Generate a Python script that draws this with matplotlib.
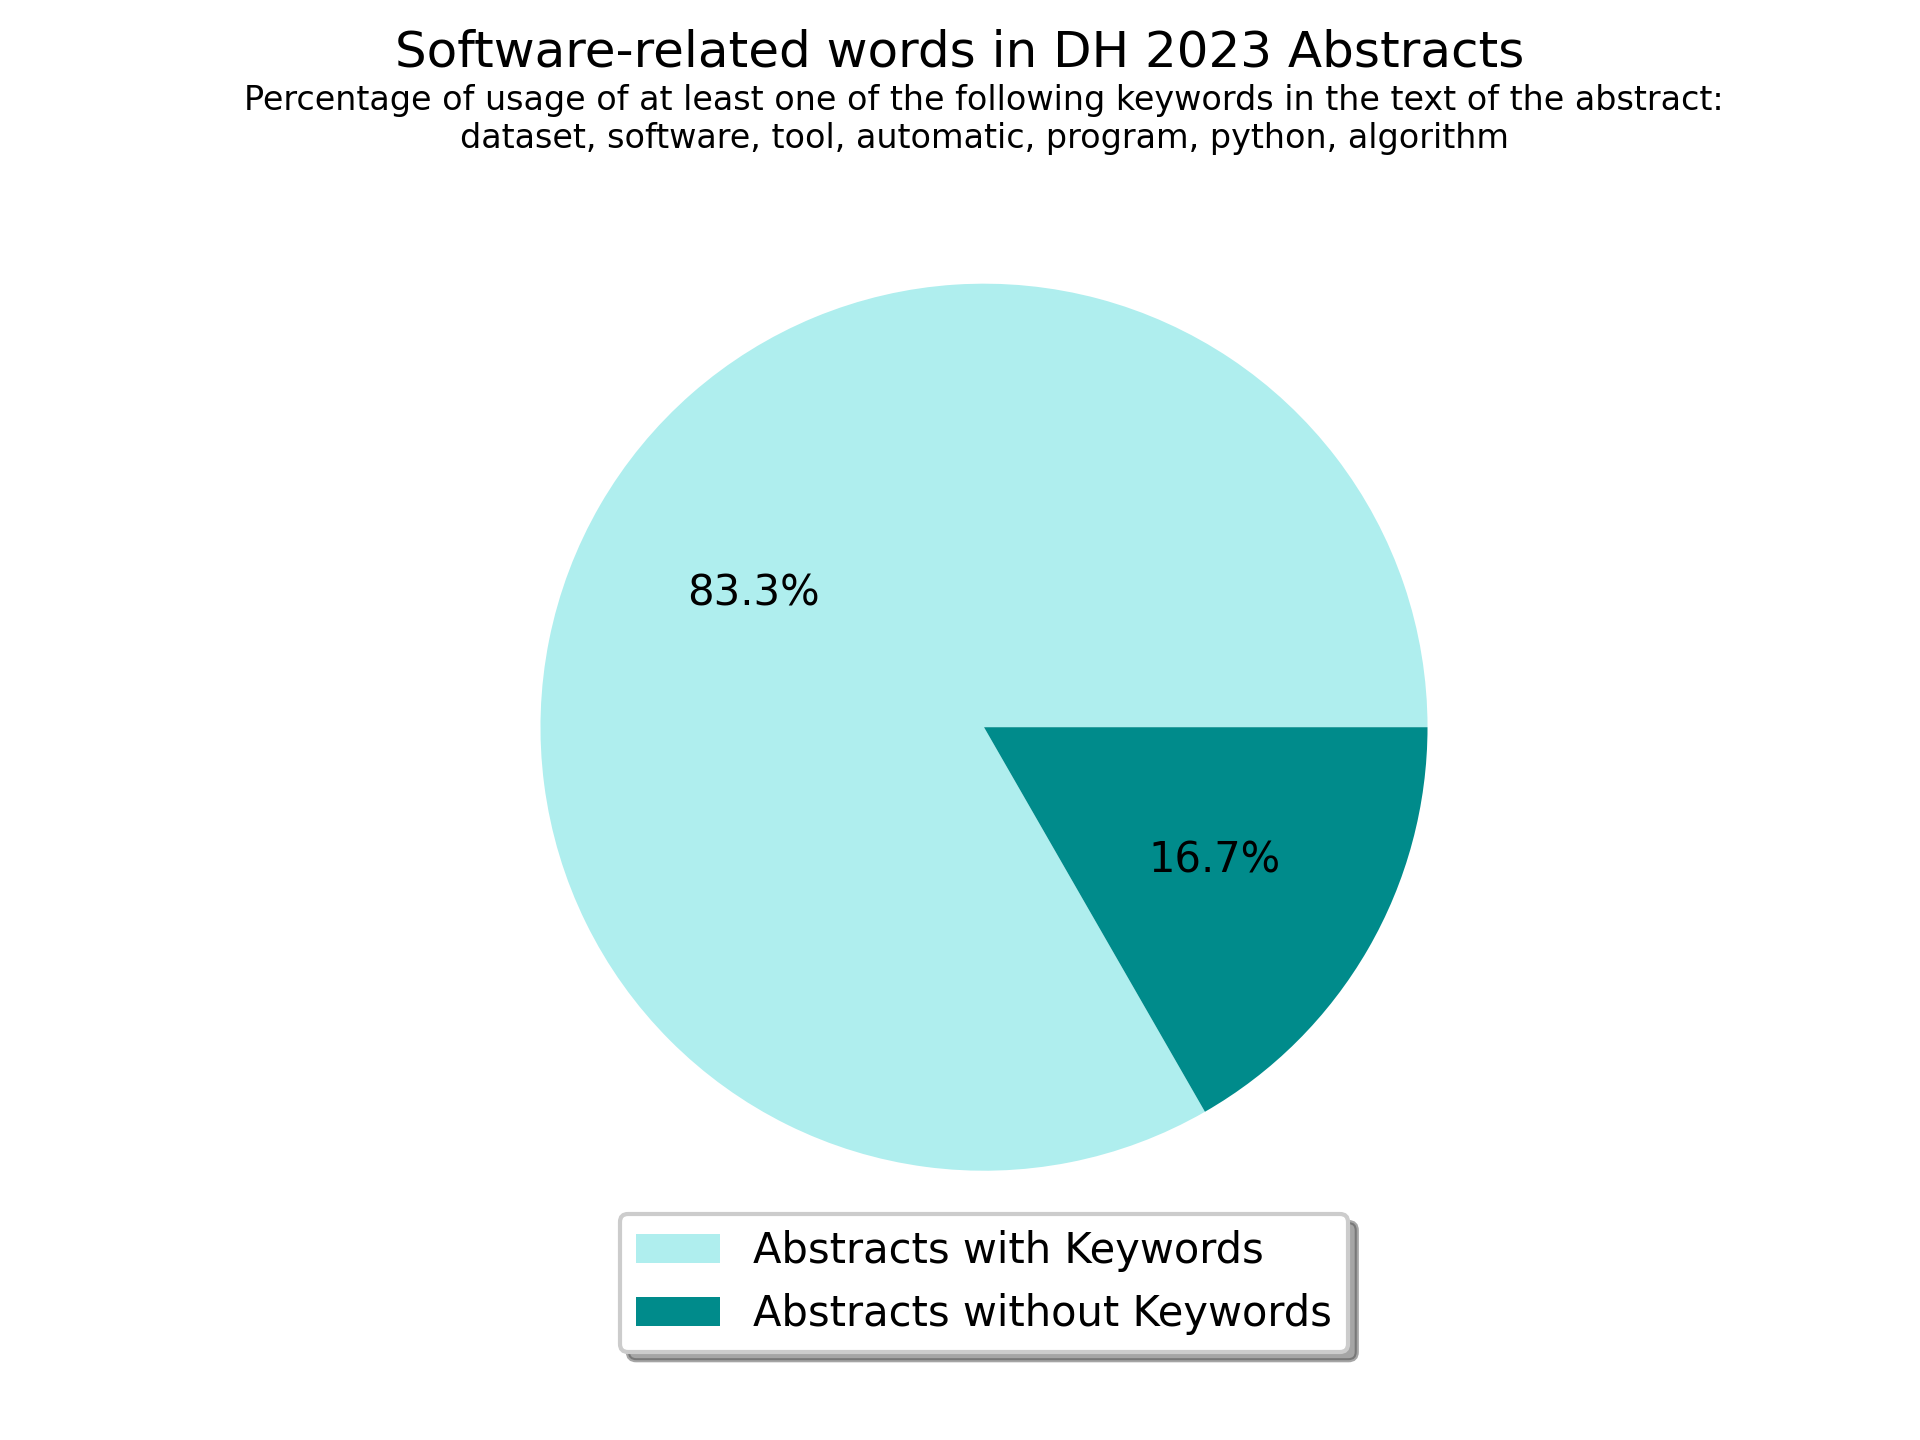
import matplotlib
matplotlib.use("Agg")
import matplotlib.pyplot as plt

labels = ["Abstracts with Keywords", "Abstracts without Keywords"]
values = [83.3, 16.7]
colors = ["paleturquoise", "darkcyan"]

title = "Software-related words in DH 2023 Abstracts"
subtitle = ("Percentage of usage of at least one of the following keywords in the text of the abstract:\n"
            "dataset, software, tool, automatic, program, python, algorithm")

fig, ax = plt.subplots(figsize=(6.4, 4.8), dpi=300)
ax.pie(values, colors=colors, autopct="%1.1f%%", textprops={"fontsize": 10})
fig.suptitle(title, fontsize=12)
ax.set_title(subtitle, fontsize=8)
ax.legend(labels, loc="upper center", bbox_to_anchor=(0.5, 0.08), shadow=True, fontsize=10)
fig.savefig("out.png", dpi=300)
